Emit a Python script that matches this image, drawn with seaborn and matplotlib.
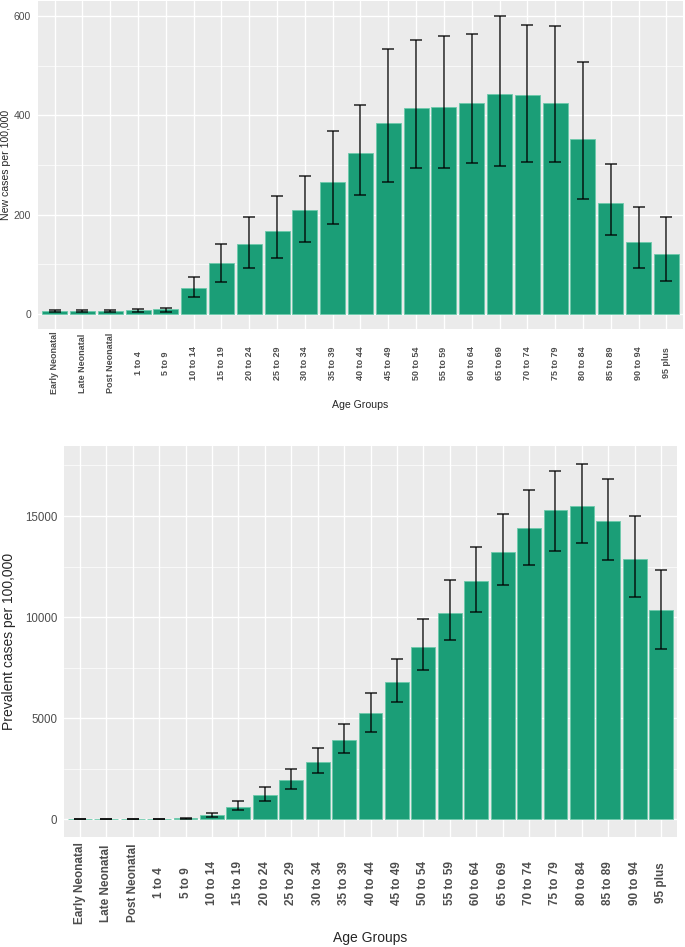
import pandas as pd
import matplotlib
matplotlib.use("Agg")
import matplotlib.pyplot as plt
import seaborn as sns

ages = ["Early Neonatal", "Late Neonatal", "Post Neonatal", "1 to 4", "5 to 9",
        "10 to 14", "15 to 19", "20 to 24", "25 to 29", "30 to 34", "35 to 39",
        "40 to 44", "45 to 49", "50 to 54", "55 to 59", "60 to 64", "65 to 69",
        "70 to 74", "75 to 79", "80 to 84", "85 to 89", "90 to 94", "95 plus"]

# incidence (new cases per 100,000)
inc_val = [7, 7, 7, 8, 9.5, 52, 102, 142, 168, 210, 266, 325, 385, 414, 416,
           425, 442, 441, 425, 353, 223, 146, 120]
inc_lo = [5, 5, 5, 5, 5, 34, 65, 93, 113, 145, 182, 240, 266, 294, 293,
          305, 297, 306, 306, 232, 159, 92, 66]
inc_hi = [9, 9, 9, 11, 13, 75, 142, 195, 237, 277, 368, 421, 534, 551, 560,
          564, 600, 582, 579, 508, 303, 216, 196]

# prevalence (prevalent cases per 100,000)
prev_val = [5, 5, 8, 15, 50, 197, 625, 1184, 1958, 2813, 3899, 5231, 6810,
            8521, 10199, 11762, 13226, 14410, 15282, 15512, 14756, 12897, 10331]
prev_lo = [2, 2, 4, 8, 30, 132, 477, 905, 1480, 2303, 3257, 4326, 5807,
           7386, 8866, 10248, 11581, 12601, 13292, 13670, 12815, 11005, 8422]
prev_hi = [9, 9, 13, 25, 80, 312, 905, 1579, 2467, 3504, 4688, 6234, 7912,
           9903, 11827, 13489, 15085, 16286, 17223, 17585, 16845, 14986, 12321]

BAR = "#1B9E77"

sns.set_theme(style="darkgrid")
plt.rcParams["font.family"] = ["Liberation Sans", "DejaVu Sans"]

fig = plt.figure(figsize=(6.85, 9.47), dpi=100)
W, H = 685, 947
ax1 = fig.add_axes([38 / W, 1 - 329 / H, (683 - 38) / W, (329 - 1) / H])
ax2 = fig.add_axes([64 / W, 1 - 837 / H, (677 - 64) / W, (837 - 446) / H])


def panel(ax, val, lo, hi, ylabel, ylim, major, minor, tsize, lsize, ysize,
          tpad, xlab_y, ylab_x):
    df = pd.DataFrame({"age": ages, "val": val})
    ax.set_facecolor("#EBEBEB")
    sns.barplot(data=df, x="age", y="val", color=BAR, width=0.9, saturation=1,
                edgecolor="#6CC9AB", linewidth=0.6, ax=ax, zorder=3)
    err = [[v - l for v, l in zip(val, lo)], [h - v for v, h in zip(val, hi)]]
    ax.errorbar(ages, val, yerr=err, fmt="none", ecolor="black", elinewidth=1.1,
                capsize=4.2, capthick=1.1, alpha=0.85, zorder=4)
    ax.set_xlim(-0.6, len(ages) - 0.4)
    ax.set_ylim(*ylim)
    ax.set_yticks(major)
    ax.set_yticks(minor, minor=True)
    ax.grid(True, which="major", color="white", linewidth=1.0, zorder=0)
    ax.grid(True, which="minor", axis="y", color="white", linewidth=0.5, zorder=0)
    ax.set_axisbelow(True)
    for s in ax.spines.values():
        s.set_visible(False)
    ax.tick_params(axis="both", which="major", length=3, width=0.8, color="#333333",
                   colors="#4D4D4D", pad=2)
    ax.tick_params(axis="y", which="minor", length=0)
    ax.tick_params(axis="x", labelsize=tsize, labelrotation=90, pad=tpad)
    ax.tick_params(axis="y", labelsize=ysize)
    for t in ax.get_xticklabels():
        t.set_color("#4D4D4D")
        t.set_fontweight("bold")
        t.set_va("center")
        t.set_ha("center")
    ax.set_xlabel("Age Groups", fontsize=lsize, va="center")
    ax.xaxis.set_label_coords(0.5, xlab_y)
    ax.set_ylabel(ylabel, fontsize=lsize, va="center")
    ax.yaxis.set_label_coords(ylab_x, 0.5)


panel(ax1, inc_val, inc_lo, inc_hi, "New cases per 100,000", (-30, 630),
      [0, 200, 400, 600], [100, 300, 500], 6.5, 7.6, 7.5,
      21.5, -0.232, -0.05)
panel(ax2, prev_val, prev_lo, prev_hi, "Prevalent cases per 100,000", (-879, 18464),
      [0, 5000, 10000, 15000], [2500, 7500, 12500, 17500], 8.5, 10, 8.3,
      30, -0.258, -0.0897)

fig.savefig("out.png", dpi=100)
